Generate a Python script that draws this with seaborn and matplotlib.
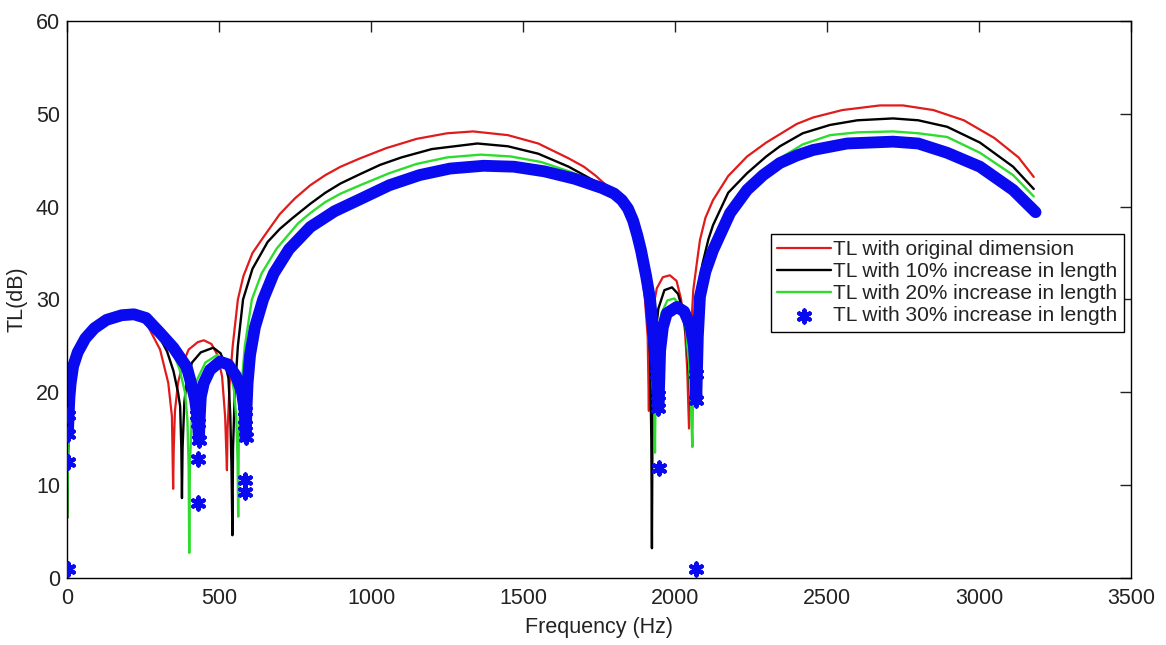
import numpy as np
import pandas as pd
import seaborn as sns
import matplotlib.pyplot as plt

# TL curves (frequency in Hz, TL in dB)
red_f = [1, 3, 8, 20, 50, 100, 175, 230, 263, 306, 333, 345, 349,
         351, 355, 365, 380, 400, 430, 450, 475, 495, 510, 520, 526,
         528, 535, 545, 562, 580, 610, 650, 700, 750, 800, 850, 900, 964, 1050, 1150, 1250, 1336,
         1450, 1550, 1650, 1700, 1740, 1780, 1822, 1850, 1872, 1889, 1901, 1910, 1914,
         1916, 1925, 1940, 1960, 1983, 2005, 2020, 2033, 2040, 2046,
         2048, 2055, 2060, 2070, 2082, 2100, 2125, 2175, 2237, 2300, 2345, 2400, 2454, 2550,
         2674, 2750, 2850, 2950, 3050, 3130, 3180]
red_tl = [6.5, 13, 18, 21.5, 25, 27.5, 28.4, 28.0, 27.3, 24.6, 21.0, 17.4, 9.6,
          14, 18, 21, 23, 24.6, 25.4, 25.6, 25.2, 24.0, 21.7, 17.4, 11.6,
          16, 21, 25, 30, 32.5, 35, 36.9, 39.2, 40.9, 42.3, 43.4, 44.3, 45.2, 46.3, 47.3, 47.9, 48.1,
          47.7, 46.8, 45.2, 44.3, 43.3, 42.1, 40.7, 38.8, 36.5, 33.6, 30, 26, 18.0,
          24, 28.5, 31.2, 32.4, 32.6, 32, 30, 26.5, 22.5, 16.1,
          22, 28, 31, 33.5, 36.4, 38.8, 40.7, 43.3, 45.4, 46.9, 47.8, 48.9, 49.6, 50.4,
          50.9, 50.9, 50.4, 49.3, 47.4, 45.3, 43.2]

black_f = [1, 3, 8, 20, 50, 100, 190, 250, 300, 329, 350, 365, 372, 376, 378,
           380, 386, 395, 411, 440, 481, 505, 522, 531, 537, 541, 544,
           546, 552, 562, 579, 610, 660, 700, 743, 800, 850, 900, 964, 1030, 1100, 1200, 1350,
           1450, 1550, 1650, 1750, 1795, 1835, 1870, 1895, 1910, 1918, 1922, 1924,
           1926, 1932, 1945, 1965, 1990, 2010, 2028, 2040, 2048, 2053,
           2055, 2060, 2072, 2090, 2110, 2125, 2175, 2237, 2300, 2345, 2420, 2510,
           2600, 2717, 2800, 2895, 3003, 3112, 3180]
black_tl = [6.5, 13, 18, 21.5, 25, 27.5, 28.4, 27.8, 26.2, 24.4, 22.3, 20, 18.5, 14, 8.6,
            14, 19, 21.5, 23.2, 24.3, 24.8, 24.2, 22.8, 21.5, 17.5, 12, 4.6,
            14, 20, 25, 30, 33.3, 36.2, 37.6, 38.8, 40.3, 41.5, 42.5, 43.5, 44.5, 45.3, 46.2, 46.8,
            46.5, 45.7, 44.3, 42.5, 41.7, 40.6, 37.5, 33.5, 29, 24, 15, 3.2,
            18, 25, 29, 31, 31.3, 30.6, 28.5, 25, 21, 18,
            22, 26, 30.3, 33.8, 36.5, 38.0, 41.5, 43.6, 45.4, 46.5, 47.9, 48.8,
            49.3, 49.5, 49.3, 48.6, 46.9, 44.3, 41.9]

green_f = [1, 3, 8, 20, 50, 100, 195, 260, 300, 340, 370, 388, 396, 400, 402,
           404, 410, 418, 427, 455, 493, 520, 540, 550, 557, 561, 563,
           565, 572, 585, 608, 640, 690, 760, 800, 850, 900, 964, 1060, 1150, 1250, 1360,
           1460, 1560, 1660, 1760, 1805, 1845, 1880, 1905, 1920, 1928, 1932, 1934,
           1936, 1942, 1955, 1975, 1998, 2018, 2035, 2046, 2052, 2057,
           2059, 2063, 2072, 2089, 2110, 2148, 2190, 2237, 2290, 2345, 2420, 2510,
           2600, 2717, 2800, 2895, 3003, 3112, 3180]
green_tl = [6.6, 13, 18, 21.5, 25, 27.5, 28.4, 27.9, 26.8, 25, 22.5, 20, 17, 12, 2.7,
            12, 17, 19.5, 21.3, 23.2, 24.0, 23.5, 22, 20, 17, 12.5, 6.6,
            15, 20, 25, 30, 32.8, 35.5, 38.2, 39.3, 40.5, 41.4, 42.3, 43.6, 44.6, 45.3, 45.6,
            45.4, 44.8, 43.7, 42.2, 41.6, 40.6, 37.5, 33.5, 29, 24, 19, 13.5,
            20, 25, 28.5, 29.9, 30.1, 29.3, 27, 23, 19, 14.1,
            19, 23, 26.5, 30.3, 33.5, 37.5, 40.2, 42.1, 43.9, 45.2, 46.7, 47.7,
            48.0, 48.1, 47.9, 47.5, 45.8, 43.4, 41.1]

# 30% case: dense band of markers
blue_f = [3, 5, 8, 12, 20, 35, 60, 90, 130, 180, 220, 260, 306, 350, 394, 412, 421, 428, 431, 434,
          436, 440, 450, 470, 503, 530, 555, 575, 584, 587, 588,
          590, 594, 602, 618, 645, 680, 730, 800, 880, 964, 1060, 1160, 1260, 1370,
          1470, 1570, 1670, 1760, 1800, 1825, 1845, 1862, 1876, 1888, 1905, 1918, 1928, 1935, 1940, 1945, 1945,
          1948, 1951, 1960, 1973, 2006, 2030, 2050, 2062, 2068, 2070,
          2072, 2075, 2082, 2100, 2125, 2181, 2237, 2290, 2345, 2400, 2454, 2566, 2717, 2800,
          2895, 3003, 3112, 3186]
blue_tl = [15.5, 17.5, 19.5, 21, 22.8, 24.3, 25.8, 26.9, 27.8, 28.3, 28.4, 28.0, 26.4, 24.8, 22.7, 20.5, 19.2, 17.5, 16.7, 14.9,
           17, 19.5, 21, 22.4, 23.3, 23, 21.8, 20.1, 18, 16.5, 15.2,
           18, 21, 24, 27, 30, 32.8, 35.4, 37.8, 39.5, 40.8, 42.3, 43.4, 44.1, 44.4,
           44.3, 43.8, 43.0, 42.0, 41.4, 40.7, 39.8, 38.5, 36.9, 35.3, 32.5, 30, 26.5, 24, 22, 19.7, 18.3,
           21, 24.5, 27, 28.5, 29.2, 28.7, 27.2, 25, 22, 19.2,
           22, 26, 30.3, 33, 35.3, 39.3, 41.8, 43.4, 44.7, 45.5, 46.1, 46.8, 47.0, 46.8,
           45.8, 44.3, 41.8, 39.4]
# single markers that stand out around the dips
blue_mk_f = [3, 3, 3, 3, 428, 431, 434, 432, 432, 584, 587, 588, 587, 587,
             1940, 1945, 1945, 1947, 2068, 2070, 2069]
blue_mk_tl = [17.5, 15.5, 12.5, 1.0, 17.5, 16.7, 14.9, 12.8, 8.1, 18, 16.5, 15.2, 10.6, 9.3,
              22, 19.7, 18.3, 11.8, 22, 19.2, 1.0]

labels = ['TL with original dimension',
          'TL with 10% increase in length',
          'TL with 20% increase in length',
          'TL with 30% increase in length']

sns.set_style("white")
plt.rcParams['font.family'] = ['Liberation Sans', 'DejaVu Sans']

fig = plt.figure(figsize=(11.66, 6.45), dpi=100)
ax = fig.add_axes([0.0575, 0.104, 0.9125, 0.8635])

red = pd.DataFrame({'f': red_f, 'tl': red_tl})
black = pd.DataFrame({'f': black_f, 'tl': black_tl})
green = pd.DataFrame({'f': green_f, 'tl': green_tl})
blue = pd.DataFrame({'f': blue_f, 'tl': blue_tl})
blue_pts = pd.DataFrame({'f': blue_mk_f, 'tl': blue_mk_tl})

sns.lineplot(data=red, x='f', y='tl', color='#e01b1b', lw=1.6, estimator=None, sort=False,
             label=labels[0], ax=ax)
sns.lineplot(data=black, x='f', y='tl', color='black', lw=1.7, estimator=None, sort=False,
             label=labels[1], ax=ax)
sns.lineplot(data=green, x='f', y='tl', color='#2edc2e', lw=1.7, estimator=None, sort=False,
             label=labels[2], ax=ax)
sns.lineplot(data=blue, x='f', y='tl', color='#0a0af0', lw=8.5, estimator=None, sort=False,
             label='_nolegend_', ax=ax, solid_capstyle='round', solid_joinstyle='round')
sns.scatterplot(data=blue_pts, x='f', y='tl', color='#0a0af0', marker=(6, 2, 0), s=75,
                linewidth=3, label=labels[3], ax=ax, zorder=3)

ax.set_xlim(0, 3500)
ax.set_ylim(0, 60)
ax.set_xticks(np.arange(0, 3501, 500))
ax.set_yticks(np.arange(0, 61, 10))
ax.tick_params(direction='in', top=True, right=True, length=8, width=1,
               labelsize=15.5, colors='#222222', pad=7)
ax.tick_params(axis='y', pad=5)
for s in ax.spines.values():
    s.set_visible(True)
    s.set_color('black')
    s.set_linewidth(1)

ax.set_xlabel('Frequency (Hz)', fontsize=15.5, labelpad=6, color='#222222')
ax.set_ylabel('TL(dB)', fontsize=15.5, labelpad=6, color='#222222')

leg = ax.legend(loc='upper right', bbox_to_anchor=(0.993, 0.618), fontsize=15,
                frameon=True, fancybox=False, edgecolor='black', framealpha=1,
                handlelength=2.6, handletextpad=0.1, borderpad=0.3, labelspacing=0.15,
                borderaxespad=0)
leg.get_frame().set_linewidth(1)
for t in leg.get_texts():
    t.set_color('#222222')

fig.savefig('out.png', dpi=100)
